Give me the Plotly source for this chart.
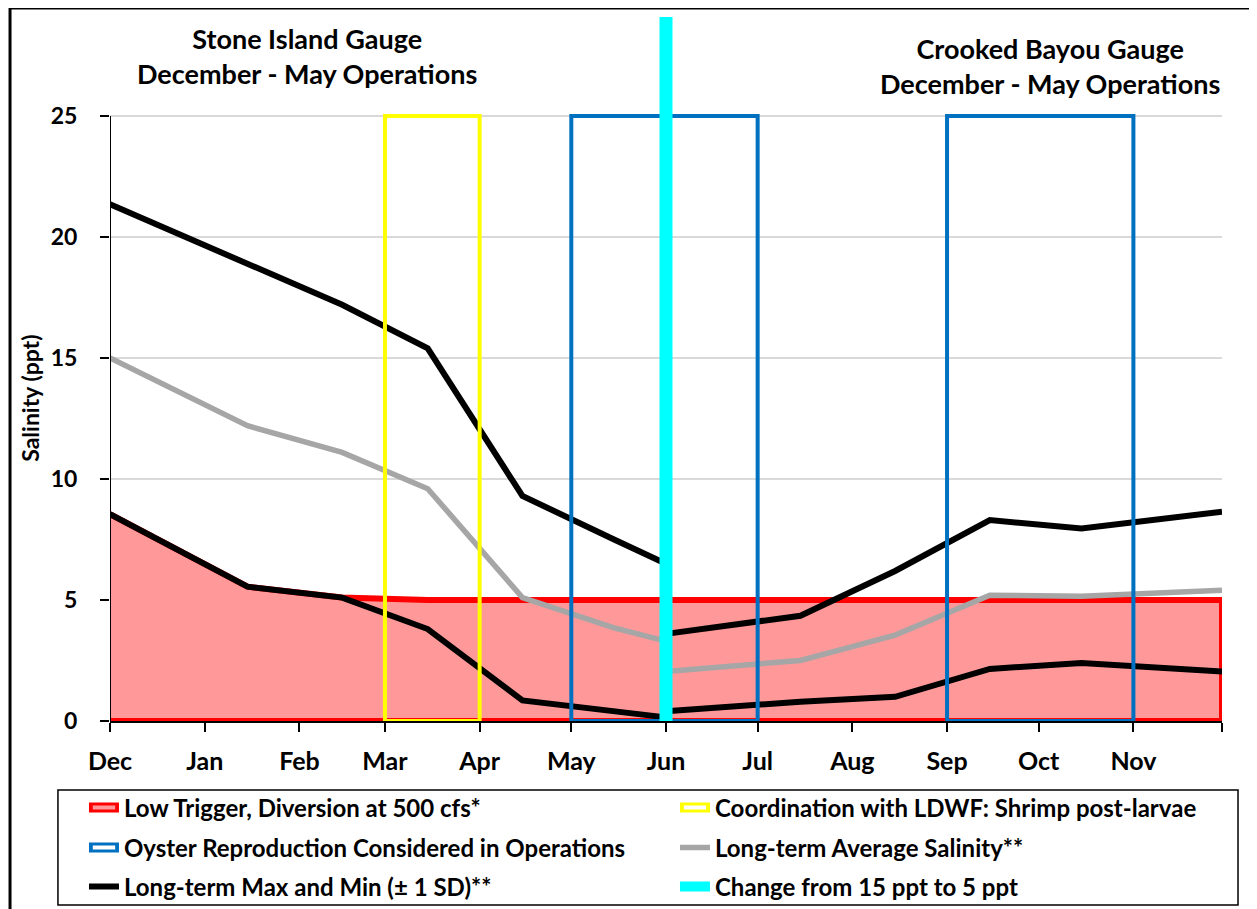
import plotly.graph_objects as go

# date axis, one non-leap year Dec -> Nov
axis_start = "2018-12-01"
axis_end = "2019-11-30"
month_ticks = ["2018-12-01", "2019-01-01", "2019-02-01", "2019-03-01", "2019-04-01",
               "2019-05-01", "2019-06-01", "2019-07-01", "2019-08-01", "2019-09-01",
               "2019-10-01", "2019-11-01", "2019-11-30"]
month_labels = ["Dec", "Jan", "Feb", "Mar", "Apr", "May", "Jun", "Jul", "Aug",
                "Sep", "Oct", "Nov", ""]

# Stone Island gauge (Dec - May)
si_dates = ["2018-12-01", "2019-01-15", "2019-02-15", "2019-03-15",
            "2019-04-15", "2019-05-15", "2019-06-01"]
si_max = [21.35, 18.9, 17.2, 15.4, 9.3, 7.5, 6.5]
si_avg = [15.0, 12.2, 11.1, 9.6, 5.1, 3.85, 3.3]
si_min = [8.55, 5.55, 5.1, 3.8, 0.85, 0.4, 0.15]

# Crooked Bayou gauge (Jun - Nov)
cb_dates = ["2019-06-01", "2019-07-15", "2019-08-15", "2019-09-15",
            "2019-10-15", "2019-11-30"]
cb_max = [3.6, 4.35, 6.2, 8.3, 7.95, 8.65]
cb_avg = [2.05, 2.5, 3.55, 5.2, 5.15, 5.4]
cb_min = [0.4, 0.8, 1.0, 2.15, 2.4, 2.05]

# low trigger area
trigger_dates = ["2018-12-01", "2019-01-15", "2019-02-15", "2019-03-15", "2019-11-30"]
trigger_vals = [8.55, 5.55, 5.1, 5.0, 5.0]

# operation windows
shrimp_windows = [("2019-03-01", "2019-04-01")]
oyster_windows = [("2019-05-01", "2019-07-01"), ("2019-09-01", "2019-11-01")]
window_top = 25
change_date = "2019-06-01"

y_top = 29.09
yticks = [0, 5, 10, 15, 20, 25]

FONT = "Lato"
RED, PINK, YELLOW, BLUE, GREY, CYAN = "#FF0000", "#FF9999", "#FFFF00", "#0070C0", "#A6A6A6", "#00FFFF"

names = {
    "trigger": "Low Trigger, Diversion at 500 cfs*",
    "shrimp": "Coordination with LDWF: Shrimp post-larvae",
    "oyster": "Oyster Reproduction Considered in Operations",
    "avg": "Long-term Average Salinity**",
    "maxmin": "Long-term Max and Min (\u00b1 1 SD)**",
    "change": "Change from 15 ppt to 5 ppt",
}


def join(*segs):
    xs, ys = [], []
    for x, y in segs:
        if xs:
            xs.append(None)
            ys.append(None)
        xs += list(x)
        ys += list(y)
    return xs, ys


def boxes(windows, top):
    xs, ys = [], []
    for a, b in windows:
        if xs:
            xs.append(None)
            ys.append(None)
        xs += [a, a, b, b, a]
        ys += [0, top, top, 0, 0]
    return xs, ys


fig = go.Figure()

# red trigger area
tx = trigger_dates + [trigger_dates[-1], trigger_dates[0]]
ty = trigger_vals + [0, 0]
fig.add_trace(go.Scatter(x=tx, y=ty, mode="lines", fill="toself",
                         fillcolor=PINK, line=dict(color=RED, width=6),
                         showlegend=False, hoverinfo="skip"))

gx, gy = join((si_dates, si_avg), (cb_dates, cb_avg))
fig.add_trace(go.Scatter(x=gx, y=gy, mode="lines",
                         line=dict(color=GREY, width=5.5),
                         name=names["avg"], legend="legend2", legendrank=2))

bx, by = join((si_dates, si_max), (cb_dates, cb_max),
              (si_dates, si_min), (cb_dates, cb_min))
fig.add_trace(go.Scatter(x=bx, y=by, mode="lines",
                         line=dict(color="black", width=6),
                         name=names["maxmin"], legend="legend3", legendrank=1))

sx, sy = boxes(shrimp_windows, window_top)
fig.add_trace(go.Scatter(x=sx, y=sy, mode="lines",
                         line=dict(color=YELLOW, width=4),
                         showlegend=False, hoverinfo="skip"))

ox, oy = boxes(oyster_windows, window_top)
fig.add_trace(go.Scatter(x=ox, y=oy, mode="lines",
                         line=dict(color=BLUE, width=4),
                         showlegend=False, hoverinfo="skip"))

fig.add_trace(go.Scatter(x=[change_date, change_date], y=[0, y_top], mode="lines",
                         line=dict(color=CYAN, width=13),
                         name=names["change"], legend="legend3", legendrank=2))

# legend entries for the boxed items (outlined icon)
for key, edge, inner, lg, rank in [("trigger", RED, PINK, "legend", 1),
                                   ("shrimp", YELLOW, "white", "legend", 2),
                                   ("oyster", BLUE, "white", "legend2", 1)]:
    fig.add_trace(go.Scatter(x=[None], y=[None], mode="lines+markers",
                             line=dict(color=edge, width=10),
                             marker=dict(symbol="line-ew", size=16,
                                         line=dict(color=inner, width=4)),
                             name=names[key], legend=lg, legendrank=rank))

# y axis line (only 0-25)
fig.add_shape(type="line", xref="x", yref="y", x0=axis_start, x1=axis_start,
              y0=0, y1=25, line=dict(color="black", width=2), layer="above")

# outer border and legend box
fig.add_shape(type="rect", xref="paper", yref="paper",
              x0=-0.0899, x1=1.04, y0=-0.3, y1=1.0128,
              line=dict(color="black", width=3))
fig.add_shape(type="rect", xref="paper", yref="paper",
              x0=-0.0468, x1=1.0144, y0=-0.2614, y1=-0.098,
              line=dict(color="black", width=1.5))

fig.add_annotation(text="Stone Island Gauge<br>December - May Operations",
                   xref="paper", yref="paper", x=0.177, y=0.944,
                   xanchor="center", yanchor="middle", showarrow=False,
                   font=dict(size=27))
fig.add_annotation(text="Crooked Bayou Gauge<br>December - May Operations",
                   xref="paper", yref="paper", x=0.845, y=0.931,
                   xanchor="center", yanchor="middle", showarrow=False,
                   font=dict(size=27))
fig.add_annotation(text="Salinity (ppt)", textangle=-90,
                   xref="paper", yref="paper", x=-0.072, y=0.459,
                   xanchor="center", yanchor="middle", showarrow=False,
                   font=dict(size=23))

leg = dict(orientation="h", xanchor="left", yanchor="middle", x=-0.0234,
           bgcolor="rgba(0,0,0,0)", borderwidth=0, entrywidth=546,
           entrywidthmode="pixels", font=dict(size=24))
fig.update_layout(
    width=1249, height=901,
    margin=dict(l=102, r=35, t=9, b=188, autoexpand=False),
    paper_bgcolor="white", plot_bgcolor="white",
    font=dict(family=FONT, color="black", weight="bold"),
    legend=dict(leg, y=-0.1236),
    legend2=dict(leg, y=-0.1804),
    legend3=dict(leg, y=-0.2358),
    xaxis=dict(type="date", range=[axis_start, axis_end],
               tickvals=month_ticks, ticktext=month_labels,
               showgrid=False, zeroline=False, automargin=False,
               showline=True, linecolor="black", linewidth=2,
               ticks="outside", ticklen=9, tickwidth=2, tickcolor="black",
               tickfont=dict(size=25), ticklabelstandoff=8),
    yaxis=dict(range=[0, y_top], tickvals=yticks, automargin=False,
               showgrid=True, gridcolor="#D9D9D9", gridwidth=1.5,
               zeroline=False, showline=False,
               ticks="outside", ticklen=9, tickwidth=2, tickcolor="black",
               tickfont=dict(size=23), ticklabelstandoff=18),
)

fig.write_html("out.html")
